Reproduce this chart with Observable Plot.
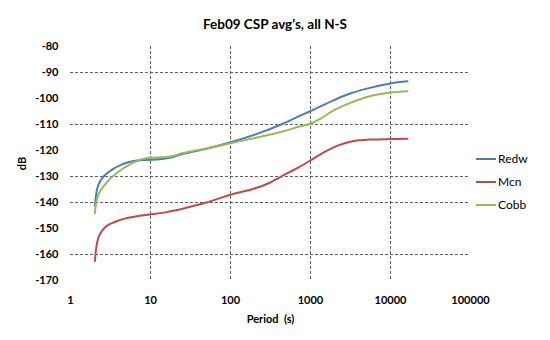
<!DOCTYPE html>
<html>
<head>
<meta charset="utf-8">
<script src="https://cdn.jsdelivr.net/npm/d3@7"></script>
<script src="https://cdn.jsdelivr.net/npm/@observablehq/plot@0.6"></script>
<style>
  html, body { margin: 0; padding: 0; background: #fff; }
  body { width: 550px; height: 340px; position: relative; overflow: hidden; font-family: Lato, "Noto Sans", sans-serif; }
  #title { height: 34px; text-align: center; font-weight: bold; font-size: 13.5px; line-height: 14px; padding-top: 17px; box-sizing: border-box; color: #000; }
  #legend { position: absolute; left: 476px; top: 147px; font-size: 12px; color: #000; }
  #legend .item { display: flex; align-items: center; height: 23px; }
  #legend svg { margin-right: 2px; }
</style>
</head>
<body>
<div id="title">Feb09 CSP avg's, all N-S</div>
<div id="chart"></div>
<div id="legend"></div>
<script>
const seriesNames = ["Redw", "Mcn", "Cobb"];
const seriesColors = ["#4A7EBB", "#BE4B48", "#98B954"];

const redwPeriod = [2.02, 2.06, 2.12, 2.2, 2.35, 2.6, 3.0, 3.5, 4.2, 5.1, 6.8, 10, 16, 25.8, 50, 100, 214, 459, 743, 1000, 1940, 3140, 5070, 10000, 16300];
const redwDb     = [-141.2, -138.5, -135.8, -133.8, -131.8, -130.0, -128.3, -126.9, -125.6, -124.6, -123.8, -123.6, -123.0, -121.3, -119.3, -116.8, -113.6, -109.6, -106.6, -104.8, -100.7, -98.1, -96.2, -94.2, -93.4];

const mcnPeriod = [2.02, 2.06, 2.12, 2.22, 2.35, 2.55, 2.85, 3.3, 4, 5.3, 7, 10, 16, 25.8, 50, 100, 200, 300, 418, 700, 1000, 1450, 2140, 3140, 5600, 10000, 16300];
const mcnDb     = [-162.5, -159.5, -156.5, -153.8, -152.0, -150.4, -149.0, -147.9, -146.9, -145.9, -145.2, -144.6, -143.7, -142.3, -140.0, -137.0, -134.6, -132.6, -130.2, -126.6, -123.8, -120.8, -118.2, -116.6, -115.8, -115.6, -115.5];

const cobbPeriod = [2.02, 2.06, 2.12, 2.22, 2.4, 2.7, 3.1, 3.6, 4.3, 5.2, 6.4, 8, 10, 16, 25.8, 50, 100, 214, 459, 743, 1000, 1322, 1940, 3140, 5070, 10000, 16300];
const cobbDb     = [-144.1, -141.5, -139.3, -137.2, -135.2, -133.0, -131.0, -129.2, -127.4, -125.8, -124.4, -123.3, -122.8, -122.5, -121.0, -119.2, -117.2, -115.0, -112.6, -110.7, -109.7, -107.8, -104.6, -101.7, -99.4, -97.7, -97.2];

const xTicks = [1, 10, 100, 1000, 10000, 100000];
const yTicks = [-170, -160, -150, -140, -130, -120, -110, -100, -90, -80];
const yGrid = [-90, -110, -130, -140, -160];
const xGrid = [10, 100, 1000, 10000];

const periods = [redwPeriod, mcnPeriod, cobbPeriod];
const dbs = [redwDb, mcnDb, cobbDb];
const data = [];
seriesNames.forEach((name, i) => {
  periods[i].forEach((p, j) => data.push({series: name, period: p, db: dbs[i][j]}));
});

const chart = Plot.plot({
  width: 550,
  height: 306,
  marginLeft: 70,
  marginRight: 80,
  marginTop: 12,
  marginBottom: 60,
  style: {fontFamily: "Lato, 'Noto Sans', sans-serif", fontSize: "11px", color: "#000", background: "#fff"},
  x: {type: "log", domain: [1, 100000]},
  y: {domain: [-170, -80]},
  color: {domain: seriesNames, range: seriesColors},
  marks: [
    Plot.ruleY(yGrid, {stroke: "#606060", strokeDasharray: "3,2", strokeWidth: 1, strokeOpacity: 1}),
    Plot.ruleX(xGrid, {stroke: "#606060", strokeDasharray: "3,2", strokeWidth: 1, strokeOpacity: 1}),
    Plot.axisX({ticks: xTicks, tickSize: 0, tickPadding: 16, tickFormat: d => String(d), fontWeight: "bold", label: "Period  (s)", labelAnchor: "center", labelOffset: 42, labelArrow: "none"}),
    Plot.axisY({ticks: yTicks, tickSize: 0, tickPadding: 12, tickFormat: d => String(d).replace("−", "-"), fontWeight: "bold", label: "dB", labelAnchor: "center", labelOffset: 52, labelArrow: "none"}),
    Plot.line(data, {x: "period", y: "db", z: "series", stroke: "series", strokeWidth: 2, curve: "monotone-x"})
  ]
});
document.getElementById("chart").appendChild(chart);

const legend = document.getElementById("legend");
seriesNames.forEach((name, i) => {
  const item = document.createElement("div");
  item.className = "item";
  item.innerHTML = `<svg width="20" height="4"><line x1="0" x2="20" y1="2" y2="2" stroke="${seriesColors[i]}" stroke-width="2"/></svg><span>${name}</span>`;
  legend.appendChild(item);
});
</script>
</body>
</html>
